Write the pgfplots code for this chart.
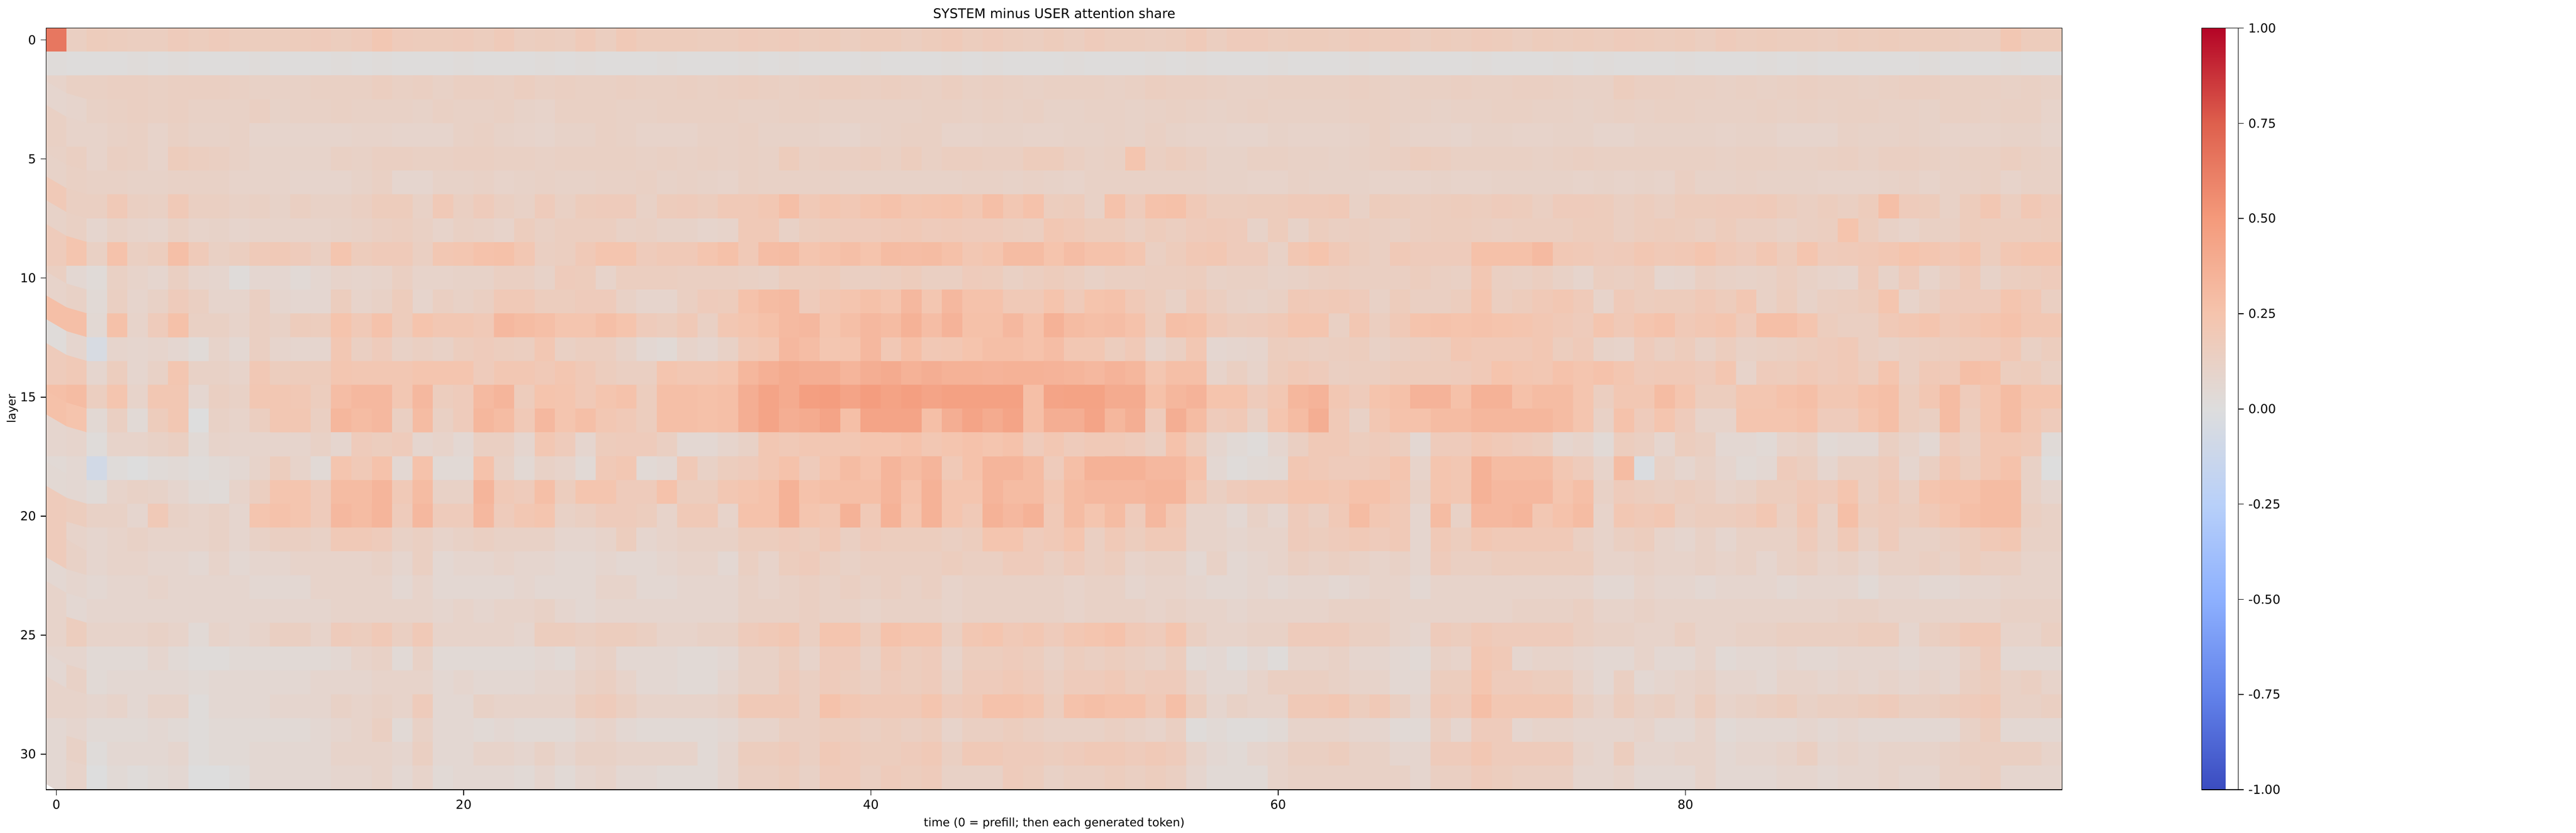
\documentclass[border=0pt]{standalone}
\usepackage{pgfplots}
\pgfplotsset{compat=1.18}
\usepackage{fontspec}
\setmainfont{DejaVu Sans}
\begin{document}
\fontsize{7.5}{9}\selectfont
\begin{tikzpicture}
\useasboundingbox (-28pt,-26pt) rectangle (1531pt,478pt);
\begin{axis}[
  at={(0pt,0pt)}, anchor=south west,
  scale only axis, width=1220pt, height=461pt,
  xmin=-0.5, xmax=98.5, ymin=-0.5, ymax=31.5, y dir=reverse,
  enlargelimits=false, axis on top,
  xtick={0,20,40,60,80}, ytick={0,5,10,15,20,25,30},
  tick align=outside, major tick length=3.5pt, tick style={black, line width=0.5pt},
  xtick pos=bottom, ytick pos=left,
  /pgf/number format/assume math mode=true,
  tick label style={font=\fontsize{7.5}{9}\selectfont},
  title={SYSTEM minus USER attention share},
  title style={font=\fontsize{8}{10}\selectfont, yshift=-3pt},
  xlabel={time (0 = prefill; then each generated token)},
  ylabel={layer}, ylabel style={yshift=-4pt},
  label style={font=\fontsize{7}{9}\selectfont},
  colormap={cw}{rgb255=(59,76,192) rgb255=(98,130,234) rgb255=(141,176,254) rgb255=(184,208,249) rgb255=(221,221,221) rgb255=(245,196,173) rgb255=(244,154,123) rgb255=(222,96,77) rgb255=(180,4,38)},
  point meta min=-1, point meta max=1,
  colorbar,
  colorbar style={at={(parent axis.north east)}, anchor=north west, xshift=76pt,
    width=22pt, height=461pt, scale only axis,
    ytick={-1,-0.75,-0.5,-0.25,0,0.25,0.5,0.75,1},
    ytick pos=right, yticklabel pos=right,
    yticklabel style={/pgf/number format/.cd, fixed, fixed zerofill, precision=2, assume math mode=true},
    tick align=outside, major tick length=3.5pt},
]
\addplot[matrix plot, mesh/cols=99, mesh/ordering=x varies, point meta=explicit]
 table[row sep=\\, header=false, x expr={mod(\coordindex,99)}, y expr={floor(\coordindex/99)}, meta expr={\thisrowno{0}/100}] {
65\\14\\17\\16\\15\\15\\18\\16\\18\\16\\16\\16\\17\\18\\16\\18\\22\\18\\17\\17\\18\\16\\19\\15\\16\\15\\19\\15\\20\\17\\17\\17\\16\\16\\18\\17\\18\\16\\17\\15\\17\\17\\15\\17\\19\\16\\18\\16\\15\\17\\15\\18\\16\\16\\15\\16\\19\\15\\18\\18\\16\\17\\17\\16\\18\\17\\18\\15\\17\\16\\18\\17\\15\\17\\16\\17\\16\\18\\17\\16\\17\\15\\18\\16\\17\\16\\16\\15\\17\\16\\17\\16\\16\\16\\15\\15\\22\\17\\17\\
2\\1\\1\\1\\2\\1\\2\\1\\1\\1\\2\\1\\1\\1\\2\\1\\2\\1\\1\\1\\2\\1\\1\\1\\2\\1\\2\\1\\1\\1\\2\\1\\1\\1\\2\\1\\2\\1\\1\\1\\2\\1\\1\\1\\2\\1\\2\\1\\1\\1\\2\\1\\1\\1\\2\\1\\2\\1\\1\\1\\2\\1\\1\\1\\2\\1\\2\\1\\1\\1\\2\\1\\1\\1\\2\\1\\2\\1\\1\\1\\2\\1\\1\\1\\2\\1\\2\\1\\1\\1\\1\\1\\2\\1\\1\\1\\2\\1\\1\\
10\\13\\13\\14\\14\\13\\14\\14\\14\\13\\12\\12\\12\\13\\13\\13\\15\\13\\14\\12\\14\\14\\13\\15\\13\\14\\13\\13\\14\\13\\13\\14\\13\\14\\15\\14\\13\\14\\15\\15\\14\\15\\14\\13\\15\\13\\14\\13\\12\\13\\13\\13\\12\\13\\15\\14\\14\\13\\12\\12\\13\\13\\13\\13\\14\\13\\12\\13\\13\\14\\13\\13\\14\\14\\13\\12\\12\\16\\14\\14\\13\\13\\12\\13\\12\\13\\14\\13\\13\\12\\13\\14\\14\\13\\13\\13\\12\\13\\12\\
8\\9\\12\\13\\14\\13\\14\\12\\12\\12\\14\\11\\12\\12\\13\\12\\12\\12\\11\\13\\12\\12\\13\\11\\10\\13\\13\\13\\12\\12\\13\\13\\13\\13\\12\\12\\13\\13\\12\\12\\12\\12\\12\\13\\13\\12\\13\\12\\13\\11\\11\\12\\12\\11\\12\\13\\12\\11\\12\\13\\12\\12\\12\\12\\13\\13\\12\\12\\11\\12\\12\\13\\13\\12\\12\\11\\12\\13\\12\\13\\13\\12\\12\\12\\13\\12\\13\\12\\13\\13\\12\\12\\11\\13\\13\\12\\13\\13\\10\\
13\\10\\10\\12\\13\\10\\13\\11\\11\\12\\9\\9\\9\\9\\9\\10\\10\\9\\9\\9\\12\\13\\11\\10\\9\\11\\11\\13\\12\\10\\10\\10\\12\\12\\13\\11\\11\\11\\10\\9\\11\\12\\13\\13\\10\\10\\11\\11\\10\\10\\11\\11\\12\\11\\13\\11\\10\\10\\9\\9\\11\\10\\10\\10\\11\\13\\11\\10\\10\\9\\11\\11\\10\\10\\11\\11\\9\\9\\11\\11\\11\\11\\10\\11\\11\\9\\9\\9\\12\\11\\11\\12\\11\\10\\10\\10\\11\\11\\9\\
12\\14\\10\\14\\13\\10\\17\\15\\14\\12\\10\\10\\10\\10\\13\\12\\14\\14\\13\\13\\14\\14\\13\\13\\12\\13\\13\\13\\13\\12\\13\\12\\13\\12\\13\\12\\17\\13\\14\\14\\15\\13\\16\\13\\15\\15\\14\\14\\17\\17\\14\\12\\13\\24\\14\\16\\14\\11\\11\\13\\13\\12\\12\\11\\12\\13\\14\\16\\15\\13\\13\\13\\13\\12\\13\\14\\13\\13\\13\\13\\13\\13\\12\\13\\13\\12\\12\\13\\14\\12\\14\\14\\13\\12\\13\\13\\15\\13\\12\\
11\\13\\12\\12\\11\\11\\12\\12\\12\\10\\10\\10\\9\\9\\9\\11\\13\\8\\8\\11\\11\\12\\10\\11\\12\\11\\11\\12\\12\\13\\11\\12\\11\\10\\13\\12\\12\\12\\12\\11\\11\\11\\11\\11\\11\\12\\12\\11\\12\\11\\10\\12\\12\\12\\12\\12\\12\\11\\11\\10\\10\\12\\11\\11\\11\\10\\10\\10\\11\\10\\10\\11\\11\\11\\11\\10\\11\\10\\11\\10\\14\\11\\11\\12\\11\\11\\11\\10\\10\\10\\11\\12\\10\\12\\12\\13\\10\\12\\12\\
20\\14\\14\\20\\14\\13\\20\\14\\14\\12\\13\\11\\14\\12\\12\\14\\17\\17\\12\\20\\14\\18\\14\\12\\18\\13\\17\\18\\18\\12\\17\\18\\16\\20\\20\\22\\28\\20\\23\\21\\24\\26\\23\\24\\25\\22\\28\\22\\26\\16\\17\\12\\26\\18\\26\\27\\20\\16\\16\\17\\17\\19\\19\\20\\12\\17\\16\\15\\16\\17\\16\\18\\17\\14\\18\\18\\17\\14\\16\\14\\17\\17\\18\\18\\19\\16\\14\\16\\14\\17\\28\\18\\17\\12\\17\\22\\15\\21\\18\\
11\\13\\8\\12\\10\\9\\13\\10\\11\\9\\10\\10\\10\\10\\11\\12\\14\\15\\13\\10\\13\\12\\10\\16\\13\\15\\15\\15\\12\\13\\11\\11\\9\\10\\20\\20\\12\\16\\17\\18\\18\\19\\20\\18\\19\\18\\18\\16\\15\\22\\20\\17\\17\\14\\17\\15\\18\\19\\18\\11\\17\\11\\16\\14\\15\\14\\13\\15\\16\\16\\15\\14\\15\\15\\15\\17\\17\\14\\16\\17\\16\\14\\17\\14\\14\\12\\14\\15\\25\\16\\12\\10\\13\\13\\17\\16\\16\\16\\17\\
18\\24\\13\\26\\14\\16\\28\\19\\13\\15\\19\\20\\18\\14\\24\\17\\19\\19\\14\\22\\23\\26\\27\\22\\14\\15\\20\\24\\24\\18\\20\\20\\24\\27\\20\\29\\30\\24\\26\\28\\25\\30\\29\\30\\27\\22\\24\\30\\30\\25\\29\\26\\26\\23\\14\\17\\21\\22\\18\\18\\12\\22\\25\\20\\16\\14\\20\\18\\18\\18\\27\\27\\27\\31\\21\\20\\18\\19\\22\\20\\21\\24\\20\\18\\22\\17\\24\\18\\19\\20\\22\\25\\23\\21\\24\\16\\22\\24\\24\\
14\\6\\3\\13\\10\\8\\14\\9\\8\\2\\7\\7\\4\\7\\10\\9\\10\\14\\10\\10\\11\\11\\14\\14\\11\\18\\17\\10\\15\\15\\15\\14\\14\\14\\13\\12\\16\\16\\17\\14\\14\\15\\17\\14\\14\\18\\17\\13\\15\\17\\15\\12\\14\\14\\15\\15\\16\\12\\13\\13\\11\\12\\14\\15\\14\\14\\14\\16\\14\\13\\22\\14\\13\\15\\12\\9\\15\\14\\16\\8\\9\\14\\12\\11\\12\\15\\12\\10\\9\\19\\11\\18\\10\\14\\19\\11\\15\\16\\18\\
10\\12\\4\\14\\9\\12\\18\\14\\9\\9\\14\\8\\7\\7\\16\\10\\12\\17\\9\\14\\12\\14\\20\\20\\16\\16\\18\\18\\12\\9\\9\\14\\18\\17\\26\\30\\31\\18\\22\\24\\27\\24\\32\\23\\32\\26\\26\\20\\20\\25\\19\\25\\26\\20\\16\\12\\19\\15\\12\\11\\13\\20\\19\\20\\18\\12\\17\\14\\14\\16\\24\\15\\17\\20\\22\\19\\10\\19\\16\\17\\17\\20\\17\\22\\12\\16\\11\\14\\15\\17\\24\\10\\14\\18\\18\\18\\24\\21\\14\\
28\\28\\5\\27\\10\\18\\27\\13\\13\\10\\14\\12\\17\\16\\25\\20\\26\\17\\25\\22\\22\\20\\32\\30\\28\\24\\24\\28\\25\\18\\16\\20\\13\\22\\24\\27\\31\\32\\24\\28\\32\\30\\36\\29\\35\\27\\27\\32\\26\\36\\30\\28\\29\\26\\17\\28\\27\\20\\17\\18\\20\\24\\24\\13\\22\\15\\20\\25\\26\\25\\26\\25\\24\\22\\20\\18\\24\\20\\24\\26\\20\\22\\24\\18\\28\\28\\24\\16\\14\\14\\20\\22\\24\\20\\22\\24\\26\\22\\22\\
2\\8\\-4\\9\\8\\9\\7\\3\\10\\6\\14\\9\\8\\8\\22\\14\\18\\12\\14\\12\\16\\18\\16\\15\\22\\13\\15\\15\\11\\6\\4\\10\\8\\12\\20\\22\\32\\29\\23\\24\\32\\21\\28\\21\\22\\25\\28\\28\\26\\29\\22\\22\\16\\20\\10\\14\\22\\7\\8\\9\\16\\15\\14\\15\\16\\12\\14\\15\\16\\22\\20\\20\\20\\22\\16\\19\\11\\10\\18\\14\\17\\12\\16\\12\\13\\14\\16\\18\\20\\14\\12\\14\\15\\16\\17\\18\\21\\13\\16\\
18\\20\\8\\16\\8\\12\\23\\12\\12\\10\\21\\16\\17\\17\\23\\22\\22\\22\\24\\24\\24\\18\\22\\22\\20\\23\\20\\16\\14\\14\\24\\22\\22\\24\\33\\37\\40\\38\\38\\34\\38\\40\\36\\38\\36\\36\\35\\36\\36\\35\\34\\32\\35\\33\\23\\28\\28\\10\\14\\10\\17\\20\\18\\14\\15\\15\\17\\17\\17\\18\\20\\25\\23\\22\\26\\24\\26\\23\\19\\20\\20\\18\\23\\10\\18\\17\\20\\18\\20\\16\\24\\14\\20\\19\\28\\27\\16\\17\\13\\
28\\30\\15\\24\\10\\22\\22\\7\\14\\12\\22\\22\\21\\16\\29\\32\\32\\22\\32\\16\\18\\31\\34\\17\\25\\24\\20\\24\\26\\16\\28\\28\\27\\28\\38\\44\\40\\47\\48\\44\\48\\45\\47\\44\\46\\46\\46\\46\\28\\44\\45\\45\\40\\40\\27\\33\\35\\25\\25\\18\\22\\33\\35\\22\\18\\25\\27\\35\\35\\27\\36\\36\\27\\30\\30\\24\\15\\22\\22\\30\\24\\16\\16\\23\\23\\26\\28\\22\\22\\26\\28\\16\\22\\30\\18\\24\\30\\24\\24\\
27\\25\\5\\14\\4\\17\\22\\0\\12\\10\\15\\22\\22\\14\\33\\30\\32\\14\\30\\13\\18\\33\\30\\20\\32\\24\\28\\22\\20\\16\\28\\28\\27\\28\\38\\44\\38\\40\\44\\28\\44\\44\\44\\28\\38\\44\\40\\44\\28\\38\\38\\44\\33\\38\\18\\38\\30\\18\\20\\12\\24\\30\\38\\20\\12\\22\\26\\26\\30\\30\\33\\33\\33\\33\\30\\24\\12\\26\\18\\24\\18\\10\\10\\24\\24\\24\\26\\18\\18\\24\\28\\16\\14\\30\\16\\24\\30\\22\\18\\
8\\9\\2\\10\\10\\12\\14\\4\\10\\9\\9\\9\\9\\12\\8\\18\\16\\18\\8\\10\\6\\14\\14\\8\\22\\18\\8\\17\\18\\18\\14\\6\\6\\9\\12\\22\\20\\22\\22\\22\\24\\24\\26\\22\\24\\26\\24\\26\\18\\22\\18\\20\\20\\18\\14\\26\\17\\8\\4\\2\\8\\14\\20\\20\\16\\18\\16\\6\\18\\18\\22\\20\\18\\16\\8\\10\\4\\16\\14\\8\\16\\14\\6\\6\\4\\10\\12\\4\\6\\6\\14\\10\\6\\18\\14\\22\\22\\20\\3\\
4\\6\\-8\\2\\0\\3\\4\\2\\4\\6\\10\\16\\10\\4\\24\\20\\26\\6\\26\\4\\4\\26\\12\\5\\12\\10\\4\\20\\22\\4\\6\\20\\12\\16\\18\\22\\26\\18\\24\\30\\26\\34\\30\\34\\20\\26\\34\\34\\30\\18\\28\\36\\36\\36\\32\\32\\26\\6\\2\\4\\5\\22\\20\\18\\18\\20\\24\\10\\24\\22\\36\\30\\30\\30\\22\\18\\10\\30\\-2\\12\\8\\12\\8\\4\\6\\18\\15\\8\\14\\14\\18\\8\\14\\22\\16\\22\\26\\12\\0\\
5\\6\\3\\10\\12\\11\\8\\4\\3\\10\\15\\24\\24\\18\\30\\30\\34\\20\\30\\12\\12\\34\\20\\18\\28\\16\\24\\24\\18\\18\\26\\16\\16\\22\\24\\26\\36\\26\\28\\28\\28\\34\\26\\36\\24\\24\\34\\30\\30\\22\\30\\32\\32\\32\\34\\34\\22\\14\\18\\20\\20\\24\\24\\22\\26\\26\\22\\12\\24\\22\\36\\32\\32\\32\\24\\28\\12\\18\\16\\14\\16\\14\\10\\12\\16\\16\\20\\18\\24\\14\\20\\14\\24\\26\\26\\30\\30\\12\\8\\
18\\16\\12\\12\\8\\20\\12\\10\\12\\8\\24\\26\\24\\18\\32\\30\\34\\18\\32\\18\\18\\32\\18\\22\\24\\12\\14\\18\\18\\16\\10\\20\\20\\10\\26\\26\\36\\24\\22\\36\\20\\36\\24\\36\\24\\20\\36\\32\\36\\20\\30\\24\\30\\18\\32\\22\\10\\10\\6\\12\\8\\18\\14\\20\\30\\22\\20\\8\\30\\12\\32\\32\\34\\22\\26\\30\\10\\22\\20\\22\\14\\16\\16\\18\\22\\14\\22\\12\\28\\16\\18\\16\\20\\24\\28\\30\\30\\14\\12\\
18\\10\\8\\10\\12\\10\\10\\10\\12\\8\\12\\14\\14\\12\\20\\20\\18\\12\\14\\10\\12\\14\\12\\12\\12\\8\\8\\10\\16\\8\\10\\12\\12\\12\\16\\16\\18\\16\\20\\14\\18\\16\\16\\16\\14\\16\\24\\24\\18\\20\\24\\14\\20\\16\\20\\20\\10\\10\\8\\10\\10\\18\\16\\18\\20\\18\\20\\8\\20\\16\\22\\20\\20\\20\\20\\14\\10\\14\\16\\10\\8\\12\\8\\12\\12\\12\\18\\12\\20\\12\\18\\12\\12\\14\\16\\20\\22\\12\\12\\
18\\12\\8\\10\\10\\8\\8\\6\\10\\6\\8\\8\\10\\10\\10\\10\\12\\8\\14\\6\\8\\8\\10\\8\\8\\6\\6\\8\\6\\6\\8\\10\\10\\6\\14\\10\\16\\18\\14\\12\\14\\14\\14\\14\\16\\14\\14\\18\\18\\14\\18\\14\\16\\10\\12\\12\\6\\12\\6\\8\\10\\14\\12\\14\\12\\10\\12\\8\\18\\14\\14\\16\\16\\16\\16\\16\\10\\10\\12\\10\\10\\12\\10\\12\\8\\12\\14\\10\\12\\8\\12\\12\\14\\12\\16\\14\\14\\10\\10\\
6\\8\\6\\8\\8\\10\\8\\8\\8\\8\\6\\6\\6\\10\\10\\10\\10\\6\\10\\6\\6\\6\\6\\8\\6\\6\\6\\10\\10\\6\\6\\8\\8\\8\\12\\10\\12\\14\\12\\14\\12\\14\\12\\14\\10\\12\\12\\12\\12\\12\\10\\12\\12\\8\\10\\10\\8\\6\\6\\8\\6\\8\\8\\6\\8\\10\\10\\6\\10\\10\\10\\10\\10\\10\\10\\10\\6\\6\\10\\8\\8\\6\\8\\8\\8\\6\\8\\8\\8\\4\\8\\8\\6\\6\\8\\8\\10\\10\\10\\
10\\6\\8\\8\\8\\8\\8\\8\\8\\8\\8\\8\\8\\8\\10\\10\\10\\10\\10\\8\\10\\8\\10\\10\\12\\8\\6\\8\\8\\8\\8\\8\\8\\8\\12\\12\\12\\14\\12\\12\\10\\12\\12\\12\\10\\12\\12\\12\\12\\12\\10\\12\\12\\12\\10\\12\\10\\10\\8\\10\\10\\10\\10\\12\\12\\12\\10\\10\\10\\10\\10\\10\\12\\12\\12\\14\\10\\10\\12\\10\\10\\10\\10\\10\\10\\10\\10\\10\\12\\12\\10\\10\\10\\10\\10\\10\\12\\12\\12\\
10\\16\\10\\10\\10\\12\\10\\4\\10\\8\\10\\14\\14\\10\\18\\16\\20\\14\\20\\10\\10\\10\\10\\8\\16\\16\\14\\16\\16\\14\\10\\10\\12\\12\\18\\20\\22\\14\\24\\24\\16\\26\\24\\24\\14\\22\\24\\20\\22\\18\\22\\24\\26\\20\\18\\24\\14\\10\\10\\12\\12\\18\\18\\18\\14\\14\\10\\8\\18\\16\\20\\18\\18\\18\\18\\14\\12\\12\\10\\10\\14\\10\\10\\12\\12\\14\\14\\14\\14\\16\\16\\8\\14\\16\\20\\20\\10\\10\\14\\
8\\8\\4\\4\\4\\8\\4\\2\\2\\4\\4\\4\\4\\4\\6\\10\\12\\4\\12\\4\\4\\4\\4\\4\\6\\4\\10\\12\\6\\6\\6\\4\\4\\6\\12\\12\\16\\10\\18\\18\\12\\20\\16\\18\\10\\16\\16\\18\\16\\12\\16\\14\\16\\14\\12\\16\\4\\6\\2\\6\\2\\10\\10\\12\\8\\8\\6\\4\\12\\10\\22\\20\\8\\10\\10\\8\\6\\6\\10\\6\\6\\10\\4\\6\\6\\8\\6\\6\\8\\8\\8\\6\\8\\8\\12\\18\\6\\6\\6\\
6\\12\\4\\6\\6\\6\\6\\4\\6\\6\\6\\6\\6\\8\\8\\8\\10\\10\\10\\6\\8\\6\\6\\6\\8\\8\\12\\14\\10\\6\\6\\4\\4\\8\\12\\12\\18\\14\\18\\16\\14\\18\\16\\18\\12\\18\\18\\20\\18\\14\\18\\18\\20\\16\\18\\18\\10\\6\\6\\10\\14\\14\\14\\12\\10\\10\\6\\6\\16\\16\\24\\18\\18\\16\\16\\10\\6\\14\\6\\8\\10\\12\\8\\8\\6\\10\\10\\8\\10\\8\\10\\8\\10\\8\\14\\16\\12\\14\\10\\
10\\10\\8\\10\\6\\10\\10\\2\\6\\6\\6\\8\\8\\8\\12\\10\\12\\10\\18\\6\\6\\12\\10\\10\\10\\10\\16\\18\\14\\10\\10\\10\\10\\12\\20\\20\\20\\14\\26\\22\\20\\20\\20\\24\\18\\20\\26\\26\\24\\16\\26\\28\\26\\26\\20\\28\\16\\8\\12\\10\\10\\20\\20\\22\\16\\20\\14\\8\\20\\18\\28\\22\\22\\22\\22\\14\\10\\16\\12\\14\\10\\16\\10\\12\\14\\16\\12\\14\\14\\16\\18\\14\\14\\16\\18\\20\\12\\12\\14\\
6\\8\\4\\4\\4\\6\\4\\2\\4\\4\\4\\4\\4\\6\\8\\10\\14\\4\\12\\6\\6\\4\\6\\4\\4\\4\\8\\10\\6\\4\\4\\4\\4\\6\\10\\10\\14\\14\\16\\16\\14\\16\\14\\16\\10\\14\\14\\16\\14\\12\\12\\12\\14\\12\\10\\14\\2\\4\\2\\2\\4\\10\\10\\10\\8\\8\\4\\4\\14\\8\\18\\18\\8\\10\\10\\8\\8\\8\\10\\6\\6\\10\\4\\6\\6\\6\\8\\6\\8\\6\\6\\6\\6\\6\\12\\16\\6\\6\\6\\
6\\12\\2\\6\\6\\6\\8\\2\\4\\4\\6\\6\\6\\6\\10\\10\\10\\8\\14\\6\\6\\10\\10\\8\\12\\8\\12\\12\\10\\10\\10\\10\\4\\8\\16\\16\\18\\14\\20\\18\\16\\16\\18\\20\\14\\20\\20\\18\\18\\16\\18\\20\\20\\18\\20\\18\\10\\6\\4\\8\\10\\14\\14\\16\\12\\12\\8\\8\\18\\18\\22\\18\\18\\18\\18\\10\\8\\16\\8\\8\\10\\10\\6\\8\\8\\10\\14\\8\\10\\8\\10\\10\\10\\12\\14\\14\\14\\14\\10\\
6\\10\\0\\4\\2\\4\\6\\0\\0\\2\\6\\6\\6\\6\\8\\8\\10\\6\\10\\4\\6\\6\\6\\4\\8\\4\\8\\10\\6\\6\\4\\4\\4\\8\\14\\14\\16\\12\\18\\18\\14\\18\\16\\18\\12\\12\\12\\18\\16\\12\\14\\14\\16\\14\\16\\14\\8\\4\\4\\4\\10\\12\\12\\12\\12\\12\\12\\8\\14\\14\\18\\16\\14\\14\\14\\8\\8\\10\\6\\6\\6\\10\\6\\6\\6\\8\\8\\6\\8\\8\\10\\8\\8\\12\\12\\14\\8\\8\\8\\
};
\end{axis}
\end{tikzpicture}
\end{document}
